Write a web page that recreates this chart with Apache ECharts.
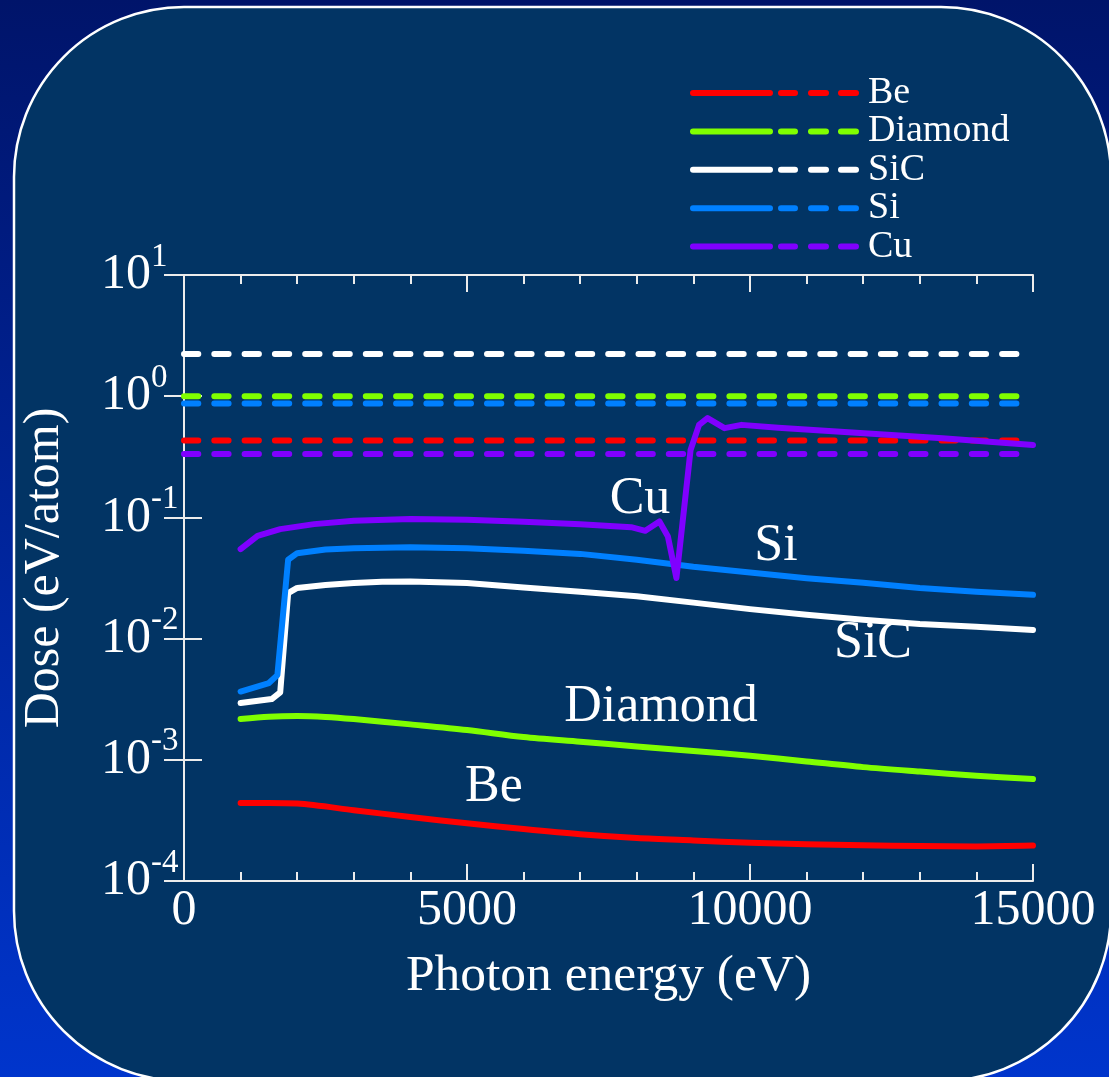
<!DOCTYPE html>
<html>
<head>
<meta charset="utf-8">
<style>
  html, body { margin: 0; padding: 0; background: #001468; }
  #chart { width: 1109px; height: 1077px; }
</style>
<script src="https://cdn.jsdelivr.net/npm/echarts@6/dist/echarts.min.js"></script>
</head>
<body>
<div id="chart"></div>
<script>
// ---- Data: absorbed dose vs photon energy ----
const materials = ['Be', 'Diamond', 'SiC', 'Si', 'Cu'];
const materialColors = ['#ff0000', '#80ff00', '#ffffff', '#0080ff', '#8000ff'];

const beEnergy = [1000, 1500, 2000, 3000, 4000, 5000, 6000, 7000, 8000, 9000, 10000, 11000, 12000, 13000, 14000, 15000];
const beDose   = [4.4e-4, 4.4e-4, 4.35e-4, 3.84e-4, 3.37e-4, 2.99e-4, 2.68e-4, 2.43e-4, 2.26e-4, 2.16e-4, 2.07e-4, 2.01e-4, 1.97e-4, 1.94e-4, 1.93e-4, 1.96e-4];

const diamondEnergy = [1000, 1500, 2000, 2500, 3000, 4000, 5000, 6000, 7000, 8000, 9000, 10000, 11000, 12000, 13000, 14000, 15000];
const diamondDose   = [2.17e-3, 2.27e-3, 2.30e-3, 2.26e-3, 2.17e-3, 1.96e-3, 1.76e-3, 1.54e-3, 1.41e-3, 1.29e-3, 1.18e-3, 1.08e-3, 9.7e-4, 8.7e-4, 8.0e-4, 7.4e-4, 6.94e-4];

const sicEnergy = [1000, 1550, 1700, 1840, 2000, 2500, 3000, 3500, 4000, 5000, 6000, 7000, 8000, 9000, 10000, 11000, 12000, 13000, 14000, 15000];
const sicDose   = [2.94e-3, 3.17e-3, 3.6e-3, 0.0237, 0.0262, 0.0277, 0.0287, 0.0294, 0.0296, 0.0287, 0.0264, 0.0243, 0.0224, 0.0198, 0.0175, 0.0157, 0.0143, 0.0132, 0.0125, 0.0118];

const siEnergy = [1000, 1500, 1650, 1840, 2000, 2500, 3000, 4000, 5000, 6000, 7000, 8000, 9000, 10000, 11000, 12000, 13000, 14000, 15000];
const siDose   = [3.66e-3, 4.3e-3, 5.0e-3, 0.0447, 0.0507, 0.0543, 0.0556, 0.0566, 0.0556, 0.0531, 0.0500, 0.0447, 0.0391, 0.0351, 0.0315, 0.0289, 0.0261, 0.0243, 0.0230];

const cuEnergy = [1000, 1300, 1700, 2300, 3000, 4000, 5000, 6000, 7000, 7900, 8150, 8400, 8550, 8700, 8950, 9100, 9250, 9550, 9850, 10500, 11600, 13400, 15000];
const cuDose   = [0.0547, 0.0705, 0.080, 0.088, 0.094, 0.097, 0.0955, 0.092, 0.088, 0.083, 0.0775, 0.0925, 0.0695, 0.0316, 0.36, 0.58, 0.66, 0.545, 0.58, 0.55, 0.51, 0.45, 0.396];

// Threshold dose of each material (dashed lines), same order as materials
const thresholdDose = [0.43, 1.0, 2.23, 0.87, 0.333];
const thresholdEnergy = [0, 14900];

// In-plot material labels
const labelNames  = ['Cu', 'Si', 'SiC', 'Diamond', 'Be'];
const labelEnergy = [8057, 10459, 12173, 8428, 5477];
const labelDose   = [0.1396, 0.0573, 0.00908, 0.00269, 5.9e-4];

// Axis settings
const xMin = 0, xMax = 15000, xInterval = 5000;
const yMin = 1e-4, yMax = 10;

const curveEnergy = [beEnergy, diamondEnergy, sicEnergy, siEnergy, cuEnergy];
const curveDose = [beDose, diamondDose, sicDose, siDose, cuDose];
// Smooth interpolation only for the curves without absorption edges
const curveSmooth = [0.3, 0.3, false, false, false];

const FONT = '"Liberation Serif", "Times New Roman", serif';
const AXIS_COLOR = '#ececec';

function pairs(xs, ys) { return xs.map((x, i) => [x, ys[i]]); }

// Legend icon: a solid segment followed by three dashes, with round ends
function seg(a, b) {
  return `M${a + 3},0 L${b - 3},0 A3,3 0 0 1 ${b - 3},6 L${a + 3},6 A3,3 0 0 1 ${a + 3},0 Z`;
}
const legendIcon = 'path://' + [seg(0, 83), seg(88, 108), seg(118, 139), seg(148, 169)].join(' ');

const series = [];
materials.forEach((m, i) => {
  series.push({
    name: m,
    type: 'line',
    data: pairs(curveEnergy[i], curveDose[i]),
    showSymbol: false,
    symbol: 'none',
    smooth: curveSmooth[i],
    z: 3,
    color: materialColors[i],
    lineStyle: { width: 6, color: materialColors[i], cap: 'round', join: 'round' },
    emphasis: { disabled: true },
    silent: true
  });
});
materials.forEach((m, i) => {
  series.push({
    name: m,
    type: 'line',
    data: thresholdEnergy.map(x => [x, thresholdDose[i]]),
    showSymbol: false,
    symbol: 'none',
    z: 2,
    color: materialColors[i],
    lineStyle: { width: 6, color: materialColors[i], type: [14.3, 16], cap: 'round' },
    emphasis: { disabled: true },
    silent: true
  });
});
series.push({
  name: 'material labels',
  type: 'scatter',
  data: labelNames.map((n, i) => ({ name: n, value: [labelEnergy[i], labelDose[i]] })),
  symbolSize: 1,
  itemStyle: { color: 'rgba(0,0,0,0)', opacity: 1 },
  z: 4,
  label: {
    show: true,
    position: 'inside',
    formatter: p => p.name,
    color: '#ffffff',
    opacity: 1,
    fontSize: 52,
    fontFamily: FONT
  },
  emphasis: { disabled: true },
  silent: true
});

const yLabel = {
  show: true,
  margin: 83,
  align: 'left',
  formatter: v => '{b|10}{s|' + Math.round(Math.log10(v)) + '}',
  rich: {
    b: { fontSize: 50, lineHeight: 56, color: '#ffffff', fontFamily: FONT },
    s: { fontSize: 33, lineHeight: 33, padding: [0, 0, 36, 0], color: '#ffffff', fontFamily: FONT }
  },
  showMinLabel: true,
  showMaxLabel: true
};

const option = {
  animation: false,
  backgroundColor: {
    type: 'linear', x: 0, y: 0, x2: 0, y2: 1,
    colorStops: [
      { offset: 0, color: '#00146a' },
      { offset: 1, color: '#0035cc' }
    ]
  },
  textStyle: { fontFamily: FONT },
  graphic: [{
    type: 'rect',
    z: -10,
    silent: true,
    shape: { x: 14, y: 7, width: 1097, height: 1074, r: 170 },
    style: { fill: '#023464', stroke: '#ffffff', lineWidth: 2.5 }
  }],
  grid: { left: 184, right: 76, top: 275, bottom: 196, outerBoundsMode: 'none', containLabel: false },
  legend: {
    data: materials,
    orient: 'vertical',
    left: 690,
    top: 74,
    padding: 0,
    icon: legendIcon,
    itemWidth: 169,
    itemHeight: 6,
    itemGap: 0.4,
    selectedMode: false,
    itemStyle: { borderWidth: 0 },
    textStyle: { color: '#ffffff', fontSize: 38, lineHeight: 38, fontFamily: FONT, padding: [0, 0, 0, 4] }
  },
  xAxis: [{
    type: 'value',
    position: 'bottom',
    min: xMin, max: xMax, interval: xInterval,
    name: 'Photon energy (eV)',
    nameLocation: 'middle',
    nameGap: 69,
    nameTextStyle: { color: '#ffffff', fontSize: 51.5, fontFamily: FONT },
    axisLine: { show: true, lineStyle: { color: AXIS_COLOR, width: 2 } },
    axisTick: { show: true, inside: true, length: 17, lineStyle: { color: AXIS_COLOR, width: 2 } },
    minorTick: { show: true, splitNumber: 5, length: 9, lineStyle: { color: AXIS_COLOR, width: 2 } },
    axisLabel: { color: '#ffffff', fontSize: 50, fontFamily: FONT, margin: 5, showMinLabel: true, showMaxLabel: true, formatter: v => String(v) },
    splitLine: { show: false }
  }, {
    type: 'value',
    position: 'top',
    min: xMin, max: xMax, interval: xInterval,
    axisLine: { show: true, lineStyle: { color: AXIS_COLOR, width: 2 } },
    axisTick: { show: true, inside: true, length: 17, lineStyle: { color: AXIS_COLOR, width: 2 } },
    minorTick: { show: true, splitNumber: 5, length: 9, lineStyle: { color: AXIS_COLOR, width: 2 } },
    axisLabel: { show: false },
    splitLine: { show: false }
  }],
  yAxis: [{
    type: 'log',
    logBase: 10,
    position: 'left',
    min: yMin, max: yMax,
    name: 'Dose (eV/atom)',
    nameLocation: 'middle',
    nameGap: 114,
    nameTextStyle: { color: '#ffffff', fontSize: 50, fontFamily: FONT, padding: [0, 0, 0, 20] },
    axisLine: { show: true, lineStyle: { color: AXIS_COLOR, width: 2 } },
    axisTick: { show: true, inside: true, length: 18, lineStyle: { color: AXIS_COLOR, width: 2 } },
    axisLabel: yLabel,
    splitLine: { show: false }
  }, {
    type: 'log',
    logBase: 10,
    position: 'right',
    min: yMin, max: yMax,
    axisLine: { show: true, lineStyle: { color: AXIS_COLOR, width: 2 } },
    axisTick: { show: true, inside: true, length: 20, lineStyle: { color: AXIS_COLOR, width: 2 } },
    axisLabel: { show: false },
    splitLine: { show: false }
  }],
  series: series
};

const chart = echarts.init(document.getElementById('chart'), null, { renderer: 'canvas' });
chart.setOption(option);
</script>
</body>
</html>
